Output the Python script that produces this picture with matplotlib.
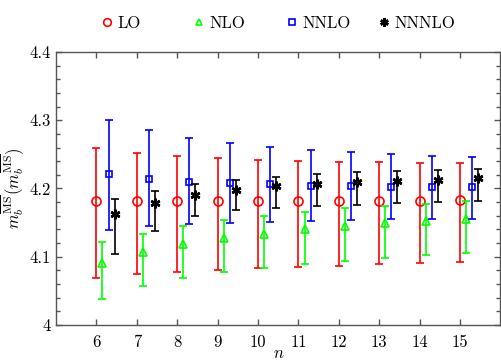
import numpy as np
import matplotlib.pyplot as plt
from matplotlib.lines import Line2D
from matplotlib.ticker import FixedLocator, FixedFormatter, MultipleLocator

plt.rcParams['font.family'] = 'serif'
plt.rcParams['font.serif'] = ['cmr10', 'DejaVu Serif']
plt.rcParams['mathtext.fontset'] = 'cm'
plt.rcParams['axes.formatter.use_mathtext'] = True

# Ordnung n
n = np.arange(6, 16)

# LO
lo_c = [4.181, 4.181, 4.181, 4.181, 4.181, 4.181, 4.181, 4.181, 4.182, 4.183]
lo_hi = [4.259, 4.252, 4.247, 4.244, 4.242, 4.240, 4.239, 4.239, 4.238, 4.238]
lo_lo = [4.069, 4.074, 4.078, 4.081, 4.083, 4.085, 4.087, 4.089, 4.091, 4.092]

# NLO
nlo_c = [4.091, 4.107, 4.119, 4.127, 4.134, 4.140, 4.145, 4.149, 4.152, 4.155]
nlo_hi = [4.121, 4.134, 4.145, 4.154, 4.160, 4.166, 4.171, 4.175, 4.178, 4.182]
nlo_lo = [4.038, 4.057, 4.069, 4.077, 4.084, 4.089, 4.094, 4.098, 4.102, 4.105]

# NNLO
nnlo_c = [4.221, 4.214, 4.210, 4.208, 4.206, 4.204, 4.203, 4.202, 4.202, 4.202]
nnlo_hi = [4.300, 4.285, 4.274, 4.267, 4.261, 4.257, 4.253, 4.250, 4.248, 4.246]
nnlo_lo = [4.139, 4.145, 4.148, 4.149, 4.151, 4.152, 4.154, 4.155, 4.155, 4.156]

# NNNLO
n3lo_c = [4.162, 4.179, 4.190, 4.198, 4.203, 4.207, 4.210, 4.211, 4.213, 4.215]
n3lo_hi = [4.184, 4.197, 4.207, 4.212, 4.217, 4.221, 4.224, 4.225, 4.227, 4.229]
n3lo_lo = [4.104, 4.138, 4.159, 4.168, 4.171, 4.174, 4.176, 4.179, 4.180, 4.182]

stern = (6, 2, 0)  # Asterisk mit 6 Armen
serien = [
    ('LO', lo_c, lo_lo, lo_hi, 0.0, '#ff0000', 'o', 6.5),
    ('NLO', nlo_c, nlo_lo, nlo_hi, 0.15, '#00ff00', '^', 6.0),
    ('NNLO', nnlo_c, nnlo_lo, nnlo_hi, 0.30, '#0000ff', 's', 5.0),
    ('NNNLO', n3lo_c, n3lo_lo, n3lo_hi, 0.45, '#000000', stern, 7.0),
]

fig = plt.figure(figsize=(5.02, 3.61), dpi=100)
ax = fig.add_axes([0.1116, 0.0997, 0.8854, 0.7563])

handles = []
for name, c, lo, hi, dx, col, mk, ms in serien:
    c = np.array(c)
    yerr = [c - np.array(lo), np.array(hi) - c]
    mew = 1.8 if mk == stern else 1.2
    ax.errorbar(n + dx, c, yerr=yerr, fmt='none', ecolor=col,
                elinewidth=1.2, capsize=3, capthick=1.2)
    ax.plot(n + dx, c, ls='none', marker=mk, mfc='none', mec=col, ms=ms, mew=mew)
    handles.append(Line2D([], [], ls='none', marker=mk, mfc='none',
                          mec=col, ms=ms - 1, mew=mew))

ax.set_xlim(5, 16)
ax.set_ylim(4.0, 4.4)
ax.xaxis.set_major_locator(FixedLocator(n))
ax.set_xticklabels([str(i) for i in n])
ax.yaxis.set_major_locator(FixedLocator([4.0, 4.1, 4.2, 4.3, 4.4]))
ax.yaxis.set_major_formatter(FixedFormatter(['4', '4.1', '4.2', '4.3', '4.4']))
ax.yaxis.set_minor_locator(MultipleLocator(0.02))

spine_col = '#555555'
for s in ax.spines.values():
    s.set_color(spine_col)
    s.set_linewidth(1.0)
ax.tick_params(axis='both', which='both', direction='in', top=True, right=True,
               color=spine_col, labelsize=12)
ax.tick_params(axis='both', which='major', length=4.5, width=1.0)
ax.tick_params(axis='y', which='minor', length=3, width=1.0)
ax.tick_params(axis='x', which='major', pad=7)
ax.tick_params(axis='y', which='major', pad=4)

ax.set_xlabel('$n$', fontsize=12)
ax.xaxis.set_label_coords(0.5, -0.075)
ax.set_ylabel(r'$m_b^{\overline{\rm MS}}(m_b^{\overline{\rm MS}})$', fontsize=12)
ax.yaxis.set_label_coords(-0.068, 0.5)

# Legende oben, Eintraege in gleichen Abstaenden
leg_x = [102, 194, 287, 379]
for h, (name, *_), x in zip(handles, serien, leg_x):
    fig.legend([h], [name], loc='center left', bbox_to_anchor=(x / 502, 1 - 23 / 361),
               frameon=False, fontsize=12, handlelength=0.6, handletextpad=0.3,
               borderpad=0, borderaxespad=0)

fig.savefig('out.png', dpi=100)
